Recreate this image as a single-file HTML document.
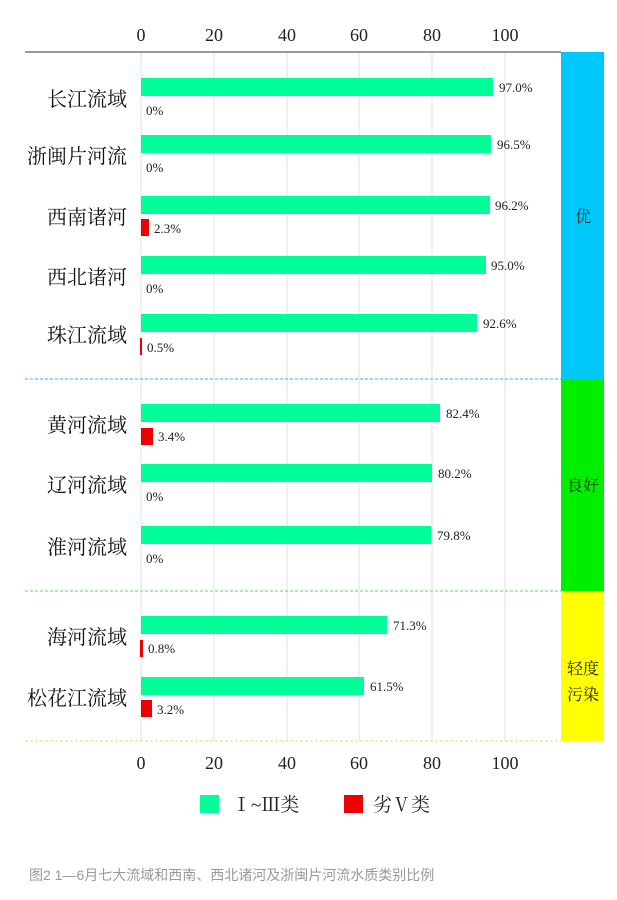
<!DOCTYPE html>
<html><head><meta charset="utf-8"><style>
body{margin:0;background:#fff;width:617px;height:895px;overflow:hidden}
</style></head><body>
<svg width="617" height="895" xmlns="http://www.w3.org/2000/svg" font-family="'Liberation Serif','Noto Serif CJK SC',serif">
<rect x="561" y="52" width="43" height="327" fill="#00c8f8"/>
<rect x="561" y="379" width="43" height="212" fill="#00ee00"/>
<rect x="561" y="591" width="43" height="150" fill="#ffff00"/>
<g stroke="#e2e2e2" stroke-width="1">
<line x1="141" y1="52" x2="141" y2="741"/><line x1="214" y1="52" x2="214" y2="741"/><line x1="287" y1="52" x2="287" y2="741"/><line x1="359" y1="52" x2="359" y2="741"/><line x1="432" y1="52" x2="432" y2="741"/><line x1="505" y1="52" x2="505" y2="741"/>
</g>
<line x1="25" y1="52" x2="561" y2="52" stroke="#999" stroke-width="2"/>
<line x1="25" y1="379" x2="561" y2="379" stroke="#22b8e8" stroke-dasharray="3,2"/>
<line x1="25" y1="591" x2="561" y2="591" stroke="#55dd55" stroke-dasharray="3,2"/>
<line x1="25" y1="741" x2="561" y2="741" stroke="#e0e055" stroke-dasharray="3,2"/>
<g font-size="18" fill="#222" text-anchor="middle">
<text x="141" y="41">0</text><text x="214" y="41">20</text><text x="287" y="41">40</text><text x="359" y="41">60</text><text x="432" y="41">80</text><text x="505" y="41">100</text>
<text x="141" y="769">0</text><text x="214" y="769">20</text><text x="287" y="769">40</text><text x="359" y="769">60</text><text x="432" y="769">80</text><text x="505" y="769">100</text>
</g>
<g font-family="'Liberation Serif','Noto Serif CJK SC',serif" font-size="16" fill="#222" text-anchor="middle">
<text x="583" y="222">优</text><text x="583" y="491">良好</text><text x="583" y="674">轻度</text><text x="583" y="700">污染</text>
</g>
<g fill="#00ff99">
<rect x="141" y="78" width="352" height="18"/>
<rect x="141" y="135" width="350" height="18"/>
<rect x="141" y="196" width="349" height="18"/>
<rect x="141" y="256" width="345" height="18"/>
<rect x="141" y="314" width="336" height="18"/>
<rect x="141" y="404" width="299" height="18"/>
<rect x="141" y="464" width="291" height="18"/>
<rect x="141" y="526" width="290" height="18"/>
<rect x="141" y="616" width="246" height="18"/>
<rect x="141" y="677" width="223" height="18"/>
</g>
<g fill="#ee0000">
<rect x="141" y="219" width="8" height="17"/>
<rect x="140" y="338" width="2" height="17"/>
<rect x="141" y="428" width="12" height="17"/>
<rect x="140" y="640" width="3" height="17"/>
<rect x="141" y="700" width="11" height="17"/>
</g>
<g font-size="13" fill="#222">
<text x="499" y="92">97.0%</text><text x="146" y="115">0%</text>
<text x="497" y="149">96.5%</text><text x="146" y="172">0%</text>
<text x="495" y="210">96.2%</text><text x="154" y="233">2.3%</text>
<text x="491" y="270">95.0%</text><text x="146" y="293">0%</text>
<text x="483" y="328">92.6%</text><text x="147" y="352">0.5%</text>
<text x="446" y="418">82.4%</text><text x="158" y="441">3.4%</text>
<text x="438" y="478">80.2%</text><text x="146" y="501">0%</text>
<text x="437" y="540">79.8%</text><text x="146" y="563">0%</text>
<text x="393" y="630">71.3%</text><text x="148" y="653">0.8%</text>
<text x="370" y="691">61.5%</text><text x="157" y="714">3.2%</text>
</g>
<g font-size="20" fill="#111" text-anchor="end">
<text x="127" y="106">长江流域</text>
<text x="127" y="163">浙闽片河流</text>
<text x="127" y="224">西南诸河</text>
<text x="127" y="284">西北诸河</text>
<text x="127" y="342">珠江流域</text>
<text x="127" y="432">黄河流域</text>
<text x="127" y="492">辽河流域</text>
<text x="127" y="554">淮河流域</text>
<text x="127" y="644">海河流域</text>
<text x="127" y="705">松花江流域</text>
</g>
<rect x="200" y="795" width="19" height="18" fill="#00ff99"/>
<text x="232" y="811" font-size="19" fill="#222">Ⅰ~Ⅲ类</text>
<rect x="344" y="795" width="19" height="18" fill="#ee0000"/>
<text x="373" y="811" font-size="19" fill="#222">劣Ⅴ类</text>
<text x="29" y="880" font-size="14" fill="#999" font-family="'Liberation Sans','Noto Sans CJK SC',sans-serif">图2  1—6月七大流域和西南、西北诸河及浙闽片河流水质类别比例</text>
</svg>
</body></html>
